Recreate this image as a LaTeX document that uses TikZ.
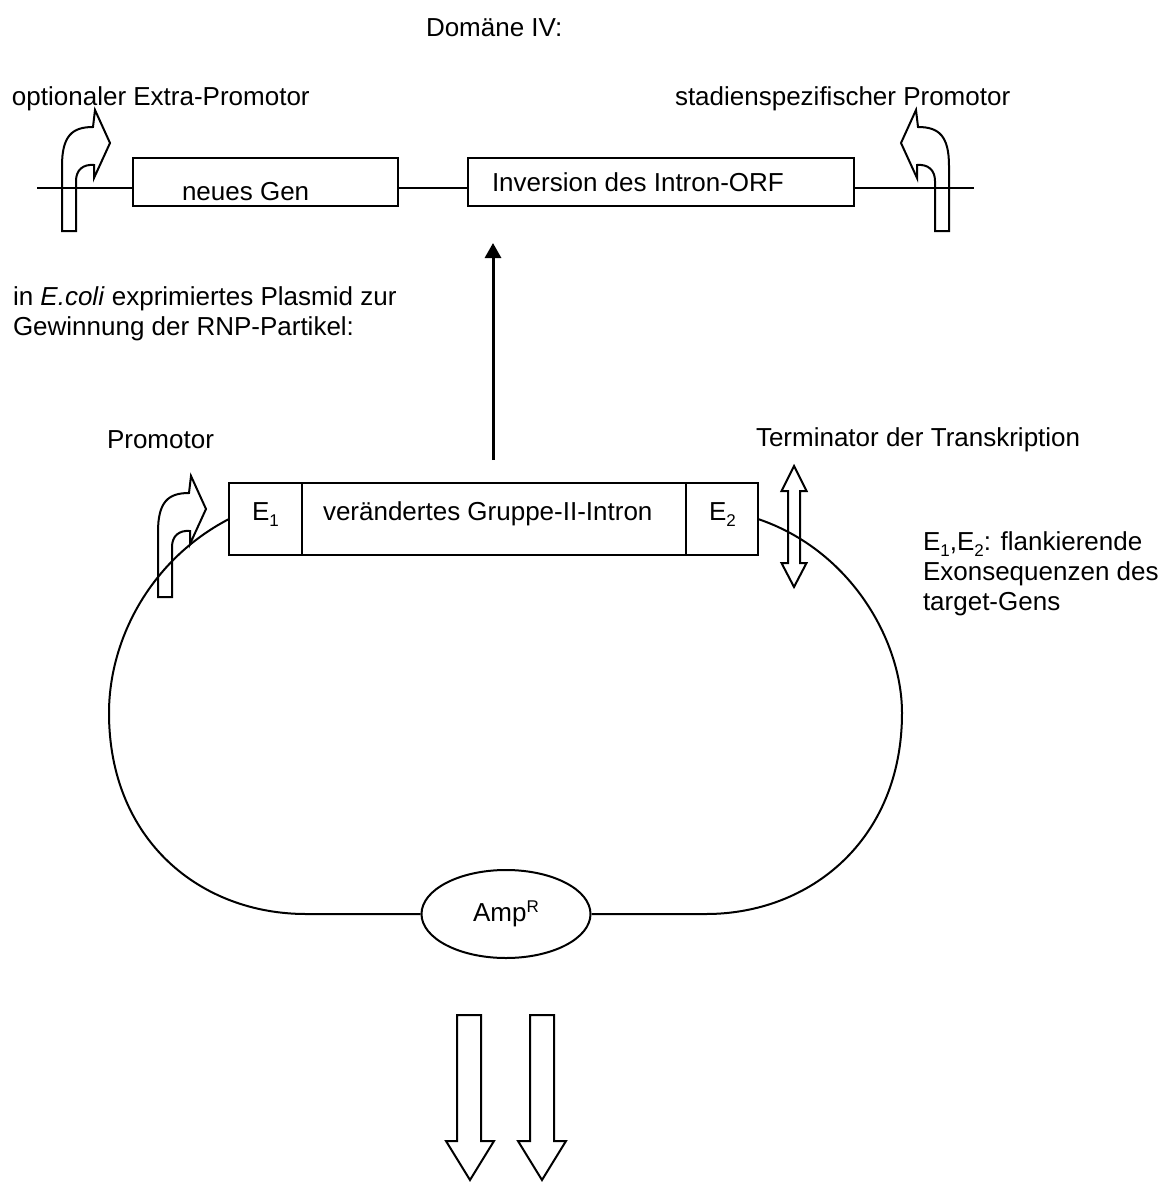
\documentclass[tikz,border=0pt]{standalone}
\usepackage{fontspec}
\setmainfont{Liberation Sans}
\usetikzlibrary{arrows.meta,shapes.geometric}

% indices as set in the labels
\newcommand{\tief}[1]{\raisebox{-6pt}{\fontsize{17}{17}\selectfont #1}}
\newcommand{\hoch}[1]{\raisebox{9pt}{\fontsize{17}{17}\selectfont #1}}

\tikzset{
  txt/.style={inner sep=0pt, outer sep=0pt, anchor=base west,
              font=\fontsize{26}{30}\selectfont},
  gene/.style={draw, line width=2pt, inner sep=0pt, outer sep=0pt,
               anchor=north west},
  dna/.style={line width=2pt},
  outline/.style={draw, line width=2pt, line join=miter},
  % bent promoter arrow, stem foot at the origin, pointing right
  promo/.pic={
    \draw[line width=2pt, line join=miter]
      (0,0) -- (0,-65) .. controls (0,-95) and (10,-104) .. (31,-104)
      -- (33,-121) -- (48,-88) -- (32,-53) -- (32,-66)
      .. controls (21,-67) and (14,-61) .. (14,-50) -- (14,0) -- cycle;
  }
}

\begin{document}
\begin{tikzpicture}[x=1pt,y=-1pt]
\useasboundingbox (0,0) rectangle (1171,1183);

% ---- construct for domain IV ----
\node[txt] (dom) at (426,36) {Domäne IV:};
\node[txt] (optp) at (12,105) {optionaler Extra-Promotor};
\node[txt] (stadp) at (675,105) {stadienspezifischer Promotor};

\coordinate (l0) at (37,188);
\coordinate (l1) at (974,188);
\node[gene, minimum width=265pt, minimum height=48pt] (gen) at (133,158) {};
\node[gene, minimum width=386pt, minimum height=48pt] (inv) at (468,158) {};
\draw[dna] (l0) -- (l0 -| gen.west);
\draw[dna] (l0 -| gen.east) -- (l0 -| inv.west);
\draw[dna] (l0 -| inv.east) -- (l1);
\node[txt] (gentxt) at (182,200) {neues Gen};
\node[txt] (invtxt) at (492,191) {Inversion des Intron-ORF};

\pic at (62,231) {promo};
\pic[xscale=-1] at (949,231) {promo};

% ---- plasmid ----
\node[txt] (ecoli1) at (13,305) {in \textit{E.coli} exprimiertes Plasmid zur};
\node[txt] (ecoli2) at (13,335) {Gewinnung der RNP-Partikel:};

\coordinate (a0) at (493,460);
\coordinate (a1) at (493,243);
\draw[line width=3pt, -{Triangle[width=16pt,length=15pt]}] (a0) -- (a1);

\node[txt] (prom) at (107,448) {Promotor};
\node[txt] (term) at (756,446) {Terminator der Transkription};

\node[gene, minimum width=73pt, minimum height=72pt] (e1) at (229,483) {};
\node[gene, minimum width=384pt, minimum height=72pt] (intr) at (302,483) {};
\node[gene, minimum width=72pt, minimum height=72pt] (e2) at (686,483) {};
\node[txt] (e1txt) at (252,520) {E\tief{1}};
\node[txt] (intrtxt) at (323,520) {verändertes Gruppe-II-Intron};
\node[txt] (e2txt) at (709,520) {E\tief{2}};

\node[draw, ellipse, line width=2pt, inner sep=0pt, minimum width=169pt,
      minimum height=88pt, font=\fontsize{26}{30}\selectfont] (amp)
      at (506,914) {Amp\hoch{R}};

\draw[dna] (e1.west) .. controls (150,560) and (109,640) .. (109,713)
  .. controls (109,840) and (200,914) .. (306,914) -- (amp.west);
\draw[dna] (e2.east) .. controls (850,550) and (902,640) .. (902,713)
  .. controls (902,840) and (810,914) .. (706,914) -- (amp.east);

\pic at (158,597) {promo};

% terminator (double arrow)
\draw[outline] (794,466) -- (806.5,491) -- (800,491) -- (800,563)
  -- (806.5,563) -- (794,587) -- (781.5,563) -- (788,563) -- (788,491)
  -- (781.5,491) -- cycle;

\node[txt] (leg1) at (923,550) {E\tief{1},E\tief{2}: flankierende};
\node[txt] (leg2) at (923,580) {Exonsequenzen des};
\node[txt] (leg3) at (923,610) {target-Gens};

% two block arrows below
\draw[outline] (457,1015) -- (481,1015) -- (481,1141) -- (494,1141)
  -- (470,1180) -- (446,1141) -- (457,1141) -- cycle;
\draw[outline] (530,1015) -- (554,1015) -- (554,1141) -- (566,1141)
  -- (542,1180) -- (518,1141) -- (530,1141) -- cycle;
\end{tikzpicture}
\end{document}
